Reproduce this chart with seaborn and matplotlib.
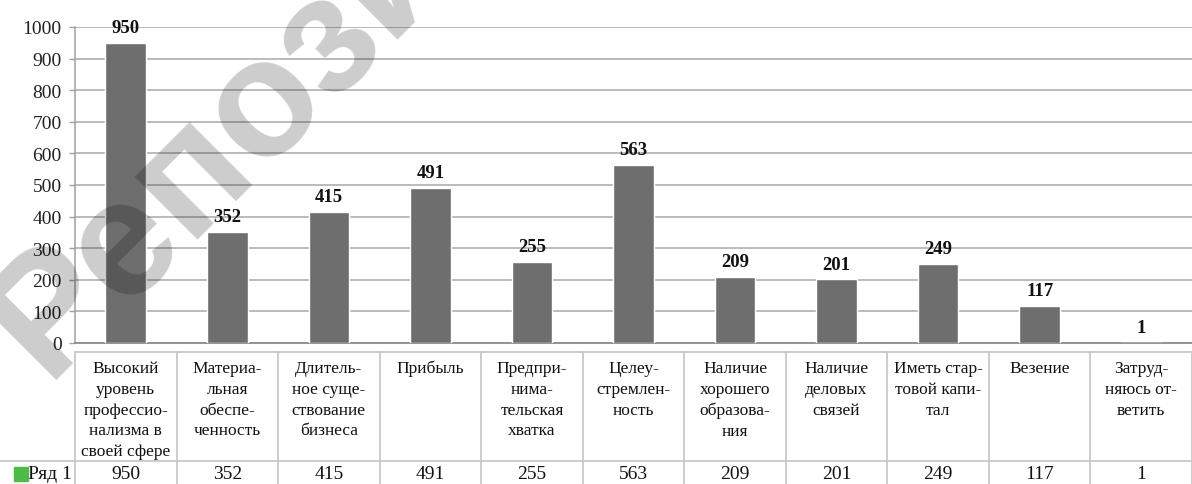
import matplotlib
matplotlib.use("Agg")
import matplotlib.pyplot as plt
import seaborn as sns

# данные диаграммы
categories = [
    "Высокий\nуровень\nпрофессио-\nнализма в\nсвоей сфере",
    "Материа-\nльная\nобеспе-\nченность",
    "Длитель-\nное суще-\nствование\nбизнеса",
    "Прибыль",
    "Предпри-\nнима-\nтельская\nхватка",
    "Целеу-\nстремлен-\nность",
    "Наличие\nхорошего\nобразова-\nния",
    "Наличие\nделовых\nсвязей",
    "Иметь стар-\nтовой капи-\nтал",
    "Везение",
    "Затруд-\nняюсь от-\nветить",
]
values = [950, 352, 415, 491, 255, 563, 209, 201, 249, 117, 1]
series_name = "Ряд 1"
yticks = list(range(0, 1001, 100))

sns.set_style("white")
plt.rcParams["font.family"] = ["Liberation Serif", "DejaVu Serif"]

W, H = 1192, 485
fig = plt.figure(figsize=(W / 100, H / 100), dpi=100)

# основная область графика
left_px, base_px, top_px = 75, 344, 28
ax = fig.add_axes([left_px / W, (H - base_px) / H, (W - left_px) / W, (base_px - top_px) / H])

sns.barplot(x=categories, y=values, color="#6e6e6e", saturation=1, width=0.4, ax=ax, zorder=3)
ax.set_xlim(-0.5, len(categories) - 0.5)
ax.set_ylim(0, 1000)
ax.set_yticks(yticks)
ax.set_xticks([])
ax.set_xlabel("")
ax.set_ylabel("")
ax.yaxis.grid(True, color="#a8a8a8", lw=1.1)
ax.set_axisbelow(True)
for s in ["top", "right"]:
    ax.spines[s].set_visible(False)
ax.spines["left"].set_color("#a0a0a0")
ax.spines["bottom"].set_color("#8c8c8c")
ax.spines["left"].set_linewidth(1.1)
ax.spines["bottom"].set_linewidth(1.3)
ax.tick_params(axis="y", left=True, length=4, width=1, color="#a0a0a0", pad=5.5,
               labelsize=14, labelcolor="#222222")

ax.bar_label(ax.containers[0], labels=[str(v) for v in values], padding=5,
             fontsize=13.5, fontweight="bold", color="#111111")

# таблица данных под графиком
col_w = (W - left_px) / len(categories)
tab_top = H - 352
tax = fig.add_axes([0, 0, 1, tab_top / H])
xmin = -0.5 - left_px / col_w
tax.set_xlim(xmin, len(categories) - 0.5)
tax.set_ylim(0, tab_top)
tax.axis("off")

grid_c = "#c4c4c4"
row_y = 23
for i in range(len(categories) + 1):
    tax.plot([i - 0.5, i - 0.5], [0, tab_top - 1], color=grid_c, lw=1.2)
tax.plot([-0.5, len(categories) - 0.5], [tab_top - 1, tab_top - 1], color=grid_c, lw=1.2)
tax.plot([xmin, len(categories) - 0.5], [row_y, row_y], color=grid_c, lw=1.2)

for i, (cat, v) in enumerate(zip(categories, values)):
    tax.text(i, tab_top - 9, cat, ha="center", va="top", fontsize=12.5,
             linespacing=1.4, color="#111111")
    tax.text(i, 10, str(v), ha="center", va="center", fontsize=14, color="#111111")

tax.plot(xmin + 21 / col_w, 10, marker="s", markersize=9.5, color="#4cbb47", clip_on=False)
tax.text(xmin + 28 / col_w, 10, series_name, ha="left", va="center", fontsize=14, color="#111111")

# водяной знак
fig.text(46 / W, (H - 380) / H, "Репозиторий", rotation=45, rotation_mode="anchor",
         ha="left", va="baseline", fontsize=120, fontweight="bold",
         family="Liberation Sans", color="black", alpha=0.2, zorder=10)

fig.savefig("out.png", dpi=100)
